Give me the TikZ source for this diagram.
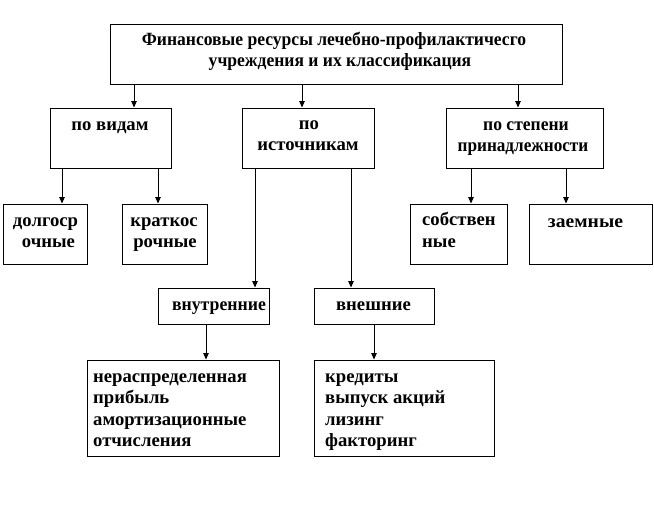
\documentclass[tikz,border=0pt]{standalone}
\usepackage{fontspec}
\setmainfont{Liberation Serif}
\usetikzlibrary{arrows.meta}
\tikzset{
  box/.style={draw, line width=0.9pt, inner sep=0pt, fill=white},
  lbl/.style={font=\bfseries\fontsize{18.67}{21.5}\selectfont, inner sep=0pt, anchor=base},
  lbll/.style={lbl, align=left, anchor=base west},
  arr/.style={line width=0.9pt, -{Triangle[length=6.5pt,width=5.5pt]}},
}
\begin{document}
\begin{tikzpicture}[x=1pt,y=-1pt]
\useasboundingbox[fill=white] (0,0) rectangle (654,516);
% boxes
\node[box, minimum width=452, minimum height=60] (top) at (336,54) {};
\node[box, minimum width=121, minimum height=60] (pv) at (110.5,138) {};
\node[box, minimum width=132, minimum height=60] (pi) at (308,138) {};
\node[box, minimum width=157, minimum height=60] (ps) at (524.5,138) {};
\node[box, minimum width=84, minimum height=60] (dl) at (45,234) {};
\node[box, minimum width=85, minimum height=60] (kr) at (164.5,234) {};
\node[box, minimum width=97, minimum height=60] (sb) at (458.5,234) {};
\node[box, minimum width=123, minimum height=60] (zm) at (590.5,234) {};
\node[box, minimum width=111, minimum height=36] (vn) at (213.5,306) {};
\node[box, minimum width=120, minimum height=36] (ve) at (374,306) {};
\node[box, minimum width=192, minimum height=96] (np) at (183,408) {};
\node[box, minimum width=180, minimum height=96] (kd) at (404,408) {};
% texts
\node[lbl, xscale=0.94] (ttop1) at (334,46) {Финансовые ресурсы лечебно-профилактичесго};
\node[lbl, xscale=0.94] (ttop2) at (340,66.7) {учреждения и их классификация};
\node[lbl] (tpv) at (110,130.7) {по видам};
\node[lbl] (tpi1) at (309,130) {по};
\node[lbl] (tpi2) at (308,151) {источникам};
\node[lbl, xscale=0.94] (tps1) at (526,130.7) {по степени};
\node[lbl, xscale=0.92] (tps2) at (523,151.7) {принадлежности};
\node[lbl] (tdl1) at (45.5,226) {долгоср};
\node[lbl] (tdl2) at (48.5,247.3) {очные};
\node[lbl] (tkr1) at (164,226) {краткос};
\node[lbl] (tkr2) at (165,247.3) {рочные};
\node[lbll] (tsb) at (422,247.3) {собствен\\ные};
\node[lbl, xscale=1.05] (tzm) at (585.5,228) {заемные};
\node[lbl, xscale=0.95] (tvn) at (219,310) {внутренние};
\node[lbl] (tve) at (373.5,310) {внешние};
\node[lbll] (tnp) at (93,446.7) {нераспределенная\\прибыль\\амортизационные\\отчисления};
\node[lbll] (tkd) at (325,446.7) {кредиты\\выпуск акций\\лизинг\\факторинг};
% arrow columns
\coordinate (c1) at (134,0);
\coordinate (c2) at (302,0);
\coordinate (c3) at (518,0);
\coordinate (c4) at (62,0);
\coordinate (c5) at (158,0);
\coordinate (c6) at (255,0);
\coordinate (c7) at (351,0);
\coordinate (c8) at (471,0);
\coordinate (c9) at (566,0);
\coordinate (c10) at (206,0);
\coordinate (c11) at (374,0);
% connectors
\draw[arr] (top.south -| c1) -- (pv.north -| c1);
\draw[arr] (top.south -| c2) -- (pi.north -| c2);
\draw[arr] (top.south -| c3) -- (ps.north -| c3);
\draw[arr] (pv.south -| c4) -- (dl.north -| c4);
\draw[arr] (pv.south -| c5) -- (kr.north -| c5);
\draw[arr] (pi.south -| c6) -- (vn.north -| c6);
\draw[arr] (pi.south -| c7) -- (ve.north -| c7);
\draw[arr] (ps.south -| c8) -- (sb.north -| c8);
\draw[arr] (ps.south -| c9) -- (zm.north -| c9);
\draw[arr] (vn.south -| c10) -- (np.north -| c10);
\draw[arr] (ve.south -| c11) -- (kd.north -| c11);
\end{tikzpicture}
\end{document}
